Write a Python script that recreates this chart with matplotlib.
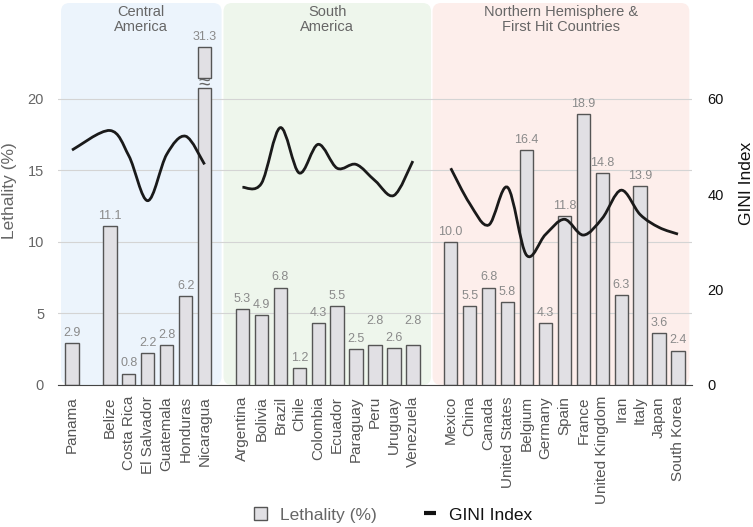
import numpy as np
import matplotlib
matplotlib.use("Agg")
import matplotlib.pyplot as plt
from matplotlib.patches import FancyBboxPatch, Patch, PathPatch
from matplotlib.path import Path
from matplotlib.lines import Line2D

plt.rcParams['font.family'] = ['Liberation Sans', 'DejaVu Sans']

# --- data ---
central = ["Panama", "Belize", "Costa Rica", "El Salvador", "Guatemala", "Honduras", "Nicaragua"]
central_leth = [2.9, 11.1, 0.8, 2.2, 2.8, 6.2, 31.3]
central_gini = [49.2, 53.3, 48.0, 38.6, 48.3, 52.1, 46.2]

south = ["Argentina", "Bolivia", "Brazil", "Chile", "Colombia", "Ecuador", "Paraguay",
         "Peru", "Uruguay", "Venezuela"]
south_leth = [5.3, 4.9, 6.8, 1.2, 4.3, 5.5, 2.5, 2.8, 2.6, 2.8]
south_gini = [41.4, 42.2, 53.9, 44.4, 50.4, 45.4, 46.2, 42.8, 39.7, 46.9]

north = ["Mexico", "China", "Canada", "United States", "Belgium", "Germany", "Spain",
         "France", "United Kingdom", "Iran", "Italy", "Japan", "South Korea"]
north_leth = [10.0, 5.5, 6.8, 5.8, 16.4, 4.3, 11.8, 18.9, 14.8, 6.3, 13.9, 3.6, 2.4]
north_gini = [45.4, 38.0, 33.5, 41.4, 27.2, 31.5, 34.7, 31.4, 34.9, 40.8, 35.7, 33.0, 31.6]

region_titles = ["Central\nAmerica", "South\nAmerica", "Northern Hemisphere &\nFirst Hit Countries"]

# --- layout ---
pos_central = [0] + list(range(2, 8))
pos_south = list(range(9, 19))
pos_north = list(range(20, 33))
region_spans = [(-0.58, 7.9), (8.0, 18.96), (19.04, 32.6)]
region_colors = ["#ecf4fc", "#eef6ec", "#fdeeeb"]
cap = 23.6            # broken bar is cut at this height
gap = (20.7, 21.4)    # break in the broken bar
label_nudge = {"Peru": 10, "Venezuela": 10}

bar_face = "#e1e0e4"
bar_edge = "#555555"

fig = plt.figure(figsize=(7.53, 5.27), dpi=100)
ax = fig.add_axes([58 / 753, 1 - 385 / 527, 634 / 753, 382 / 527])
ax.set_xlim(-0.74, 32.74)
ax.set_ylim(0, 80 / 3)

# region backgrounds
for (x0, x1), c, t in zip(region_spans, region_colors, region_titles):
    box = FancyBboxPatch((x0, 0), x1 - x0, 80 / 3, boxstyle="round,pad=0,rounding_size=0.45",
                         mutation_aspect=1.32, facecolor=c, edgecolor="none", zorder=0)
    ax.add_patch(box)
    ax.text((x0 + x1) / 2, 80 / 3 - 0.12, t, ha="center", va="top", fontsize=10.5,
            color="#666666", linespacing=1.15, zorder=5)

names = central + south + north
leths = central_leth + south_leth + north_leth
positions = pos_central + pos_south + pos_north

for name, v, x in zip(names, leths, positions):
    if v > cap:
        ax.bar(x, gap[0], width=0.7, color=bar_face, edgecolor=bar_edge, linewidth=1, zorder=2)
        ax.bar(x, cap - gap[1], bottom=gap[1], width=0.7, color=bar_face, edgecolor=bar_edge,
               linewidth=1, zorder=2)
        ax.text(x, sum(gap) / 2, "\u2248", ha="center", va="center", fontsize=15,
                color="#666666", zorder=3)
        top = cap
    else:
        ax.bar(x, v, width=0.7, color=bar_face, edgecolor=bar_edge, linewidth=1, zorder=2)
        top = v
    ax.annotate(f"{v:.1f}", (x, top), xytext=(0, 3 + label_nudge.get(name, 0)),
                textcoords="offset points", ha="center", va="bottom", fontsize=9,
                color="#8a8a8a", zorder=4)

ax.set_xticks(positions)
ax.set_xticklabels(names, rotation=90, fontsize=11, color="#555555")
ax.set_yticks([0, 5, 10, 15, 20])
ax.grid(axis="y", color="#d4d4d4", linewidth=0.8)
ax.set_axisbelow(True)
for s in ["top", "right", "left"]:
    ax.spines[s].set_visible(False)
ax.spines["bottom"].set_color("#444444")
ax.tick_params(axis="x", length=0, pad=8)
ax.tick_params(axis="y", length=0, pad=10, labelsize=10.5, labelcolor="#666666")
ax.set_ylabel("Lethality (%)", fontsize=12.5, color="#666666")
ax.yaxis.set_label_coords(-0.064, 0.508)

# GINI on the right axis, smooth curves
ax2 = ax.twinx()
ax2.set_ylim(0, 80)
ax2.set_yticks([0, 20, 40, 60])
for s in ax2.spines.values():
    s.set_visible(False)
ax2.tick_params(axis="y", length=0, pad=11, labelsize=10.5, labelcolor="#111111")
ax2.set_ylabel("GINI Index", fontsize=12.5, color="#111111")
ax2.yaxis.set_label_coords(1.074, 0.527)


def smooth_path(xs, ys):
    p = np.column_stack([xs, ys]).astype(float)
    ext = np.vstack([p[0], p, p[-1]])
    verts = [p[0]]
    codes = [Path.MOVETO]
    for i in range(len(p) - 1):
        p0, p1, p2, p3 = ext[i], ext[i + 1], ext[i + 2], ext[i + 3]
        verts += [p1 + (p2 - p0) / 6, p2 - (p3 - p1) / 6, p2]
        codes += [Path.CURVE4] * 3
    return Path(verts, codes)


for xs, ys in [(pos_central, central_gini), (pos_south, south_gini), (pos_north, north_gini)]:
    ax2.add_patch(PathPatch(smooth_path(xs, ys), facecolor="none", edgecolor="#1a1a1a",
                            linewidth=2, zorder=3))

handles = [Patch(facecolor=bar_face, edgecolor=bar_edge, linewidth=1),
           Line2D([0], [0], color="#111111", linestyle="none", marker="_",
                  markersize=9, markeredgewidth=3)]
leg = fig.legend(handles, ["Lethality (%)", "GINI Index"], loc="center",
                 bbox_to_anchor=(0.522, 0.023), ncol=2, frameon=False, fontsize=12.5,
                 handlelength=0.8, handleheight=0.8, handletextpad=0.7, columnspacing=2.7)
leg.get_texts()[0].set_color("#666666")
leg.get_texts()[1].set_color("#111111")

fig.savefig("out.png", dpi=100)
